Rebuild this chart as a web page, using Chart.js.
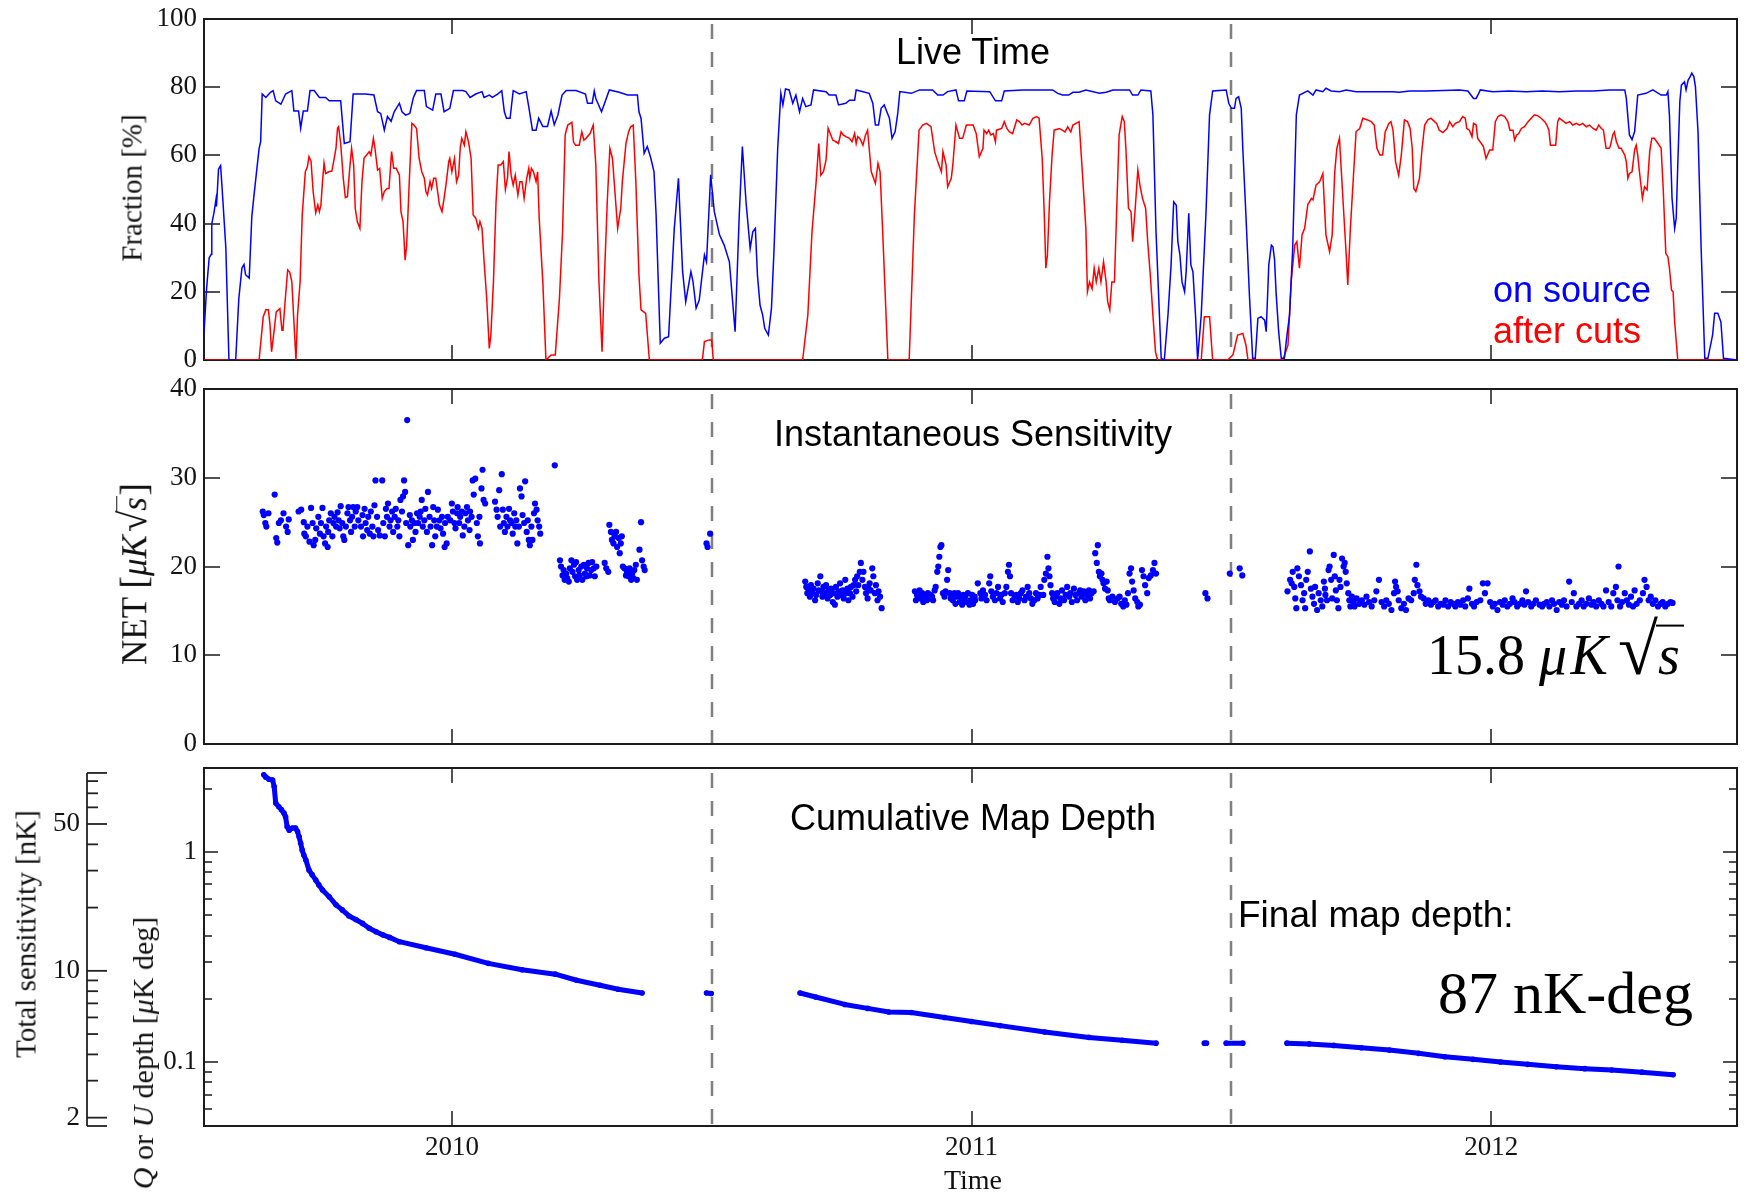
<!DOCTYPE html>
<html>
<head>
<meta charset="utf-8">
<title>Live time, instantaneous sensitivity and cumulative map depth</title>
<script src="https://cdn.jsdelivr.net/npm/chart.js@4/dist/chart.umd.min.js"></script>
<style>
  html, body { margin: 0; padding: 0; background: #fff; }
  #wrap { position: relative; width: 1744px; height: 1192px; overflow: hidden; background: #fff; }
  #wrap canvas { position: absolute; left: 0; }
  .t { position: absolute; white-space: nowrap; line-height: 1; }
  .serif { font-family: 'Liberation Serif', 'Times New Roman', serif; color: #111; }
  .sans { font-family: 'Liberation Sans', Arial, sans-serif; color: #000; }
  .c { transform: translate(-50%, -50%); }
  .l { transform: translate(0, -50%); }
  .rot { transform: translate(-50%, -50%) rotate(-90deg); }
  .rad { font-size: 1.12em; margin-left: 0.08em; }
  .rc { display: inline-block; border-top: 0.055em solid currentColor; line-height: 0.95; padding: 0.02em 0.04em 0 0.02em; margin-left: -0.03em; }
  .br { font-size: 1.1em; }
  .big .mu { margin-right: 0.06em; }
  .big .rad { font-size: 1.3em; margin-left: 0.14em; }
  .big .rc { border-top-width: 0.05em; padding: 0.04em 0.08em 0 0.04em; margin-left: -0.04em; }
</style>
</head>
<body>
<div id="wrap">
  <canvas id="live" width="1744" height="372" style="top:0px"></canvas>
  <canvas id="net" width="1744" height="384" style="top:372px"></canvas>
  <canvas id="depth" width="1744" height="436" style="top:756px"></canvas>

  <div class="t sans c" style="left:973px;top:52px;font-size:36px">Live Time</div>
  <div class="t sans c" style="left:973px;top:434px;font-size:36px">Instantaneous Sensitivity</div>
  <div class="t sans c" style="left:973px;top:818px;font-size:36px">Cumulative Map Depth</div>
  <div class="t sans l" style="left:1493px;top:290px;font-size:36px;color:#0000ff">on source</div>
  <div class="t sans l" style="left:1493px;top:331px;font-size:36px;color:#ff0000">after cuts</div>
  <div class="t sans l" style="left:1238px;top:914px;font-size:37px">Final map depth:</div>
  <div class="t serif l" style="left:1438px;top:993px;font-size:60px;color:#000">87 nK-deg</div>
  <div class="t serif l big" style="left:1427px;top:650px;font-size:56px;color:#000">15.8<span style="display:inline-block;width:14px"></span><i class="mu">μ</i><i>K</i><span class="rad">√</span><span class="rc"><i>s</i></span></div>

  <div class="t serif rot" style="left:132px;top:188px;font-size:29px">Fraction [%]</div>
  <div class="t serif rot" style="left:133px;top:574px;font-size:35px">NET <span class="br">[</span><i>μK</i><span class="rad">√</span><span class="rc"><i>s</i></span><span class="br">]</span></div>
  <div class="t serif rot" style="left:26px;top:934px;font-size:29px">Total sensitivity [nK]</div>
  <div class="t serif rot" style="left:143px;top:1053px;font-size:30px"><i>Q</i> or <i>U</i> depth [<i>μ</i>K deg]</div>
  <div class="t serif c" style="left:973px;top:1180px;font-size:28px">Time</div>
</div>

<script>
// ---- axis settings -------------------------------------------------------
const timeRange = [2009.523, 2012.473];
const yearTicks = [2010, 2011, 2012];
const seasonBreaks = [2010.5, 2011.5];
const fracTicks = [0, 20, 40, 60, 80, 100];
const netTicks = [0, 10, 20, 30, 40];
const depthRange = [0.0496, 2.51];          // Q or U depth, uK deg
const depthLabelTicks = [0.1, 1];
const depthMinorTicks = [0.06, 0.07, 0.08, 0.09, 0.2, 0.3, 0.4, 0.5, 0.6, 0.7, 0.8, 0.9, 2];
const nKPerDepth = 36.8;                     // total sensitivity [nK] per uK deg of map depth
const totalSensLabelTicks = [2, 10, 50];
const totalSensMinorTicks = [3, 4, 5, 6, 7, 8, 9, 20, 30, 40, 60, 70, 80];
const totalSensTop = 87.5;

// ---- live time fraction [%] ---------------------------------------------
const onSourcePts = [
[2009.523,8],[2009.528,21],[2009.533,30],[2009.537,31],[2009.538,40],[2009.542,43],[2009.546,47],[2009.547,45],[2009.551,56],[2009.555,57],[2009.558,50],[2009.565,33],[2009.571,0],[2009.584,0],[2009.590,18],[2009.596,27],[2009.600,28],[2009.603,25],[2009.610,24],[2009.615,42],[2009.619,48],[2009.624,55],[2009.629,62],[2009.632,64],[2009.635,78],[2009.642,77],[2009.651,78.5],[2009.656,79],[2009.661,76],[2009.671,75],[2009.680,78],[2009.692,79],[2009.696,73],[2009.705,73],[2009.709,68],[2009.714,73],[2009.722,73],[2009.727,79],[2009.735,79],[2009.745,77],[2009.757,77],[2009.764,76],[2009.777,76],[2009.786,76],[2009.793,63.5],[2009.804,64],[2009.810,78],[2009.825,78],[2009.834,78],[2009.850,77.7],[2009.857,72.8],[2009.863,72.3],[2009.870,67.4],[2009.876,71.4],[2009.883,70],[2009.889,72.8],[2009.899,75.3],[2009.904,72.8],[2009.911,71.8],[2009.919,72.3],[2009.926,77],[2009.932,79],[2009.947,79],[2009.951,74.3],[2009.963,73.3],[2009.969,78],[2009.979,78],[2009.985,72.8],[2009.996,73.8],[2010.003,79],[2010.021,79],[2010.027,78.7],[2010.035,77],[2010.046,78],[2010.058,78.7],[2010.062,77],[2010.072,77.7],[2010.078,77],[2010.088,78],[2010.096,79],[2010.101,72.8],[2010.105,70.9],[2010.112,70.9],[2010.118,79],[2010.130,78],[2010.143,78.7],[2010.149,73.3],[2010.155,67.4],[2010.162,67.4],[2010.167,70.9],[2010.175,68.5],[2010.184,68.5],[2010.191,73],[2010.197,69],[2010.204,71.8],[2010.212,77.7],[2010.220,79],[2010.239,79],[2010.257,78],[2010.261,75.3],[2010.270,75.3],[2010.274,78.9],
[2010.277,76.7],[2010.288,72.8],[2010.303,79.2],[2010.322,78.5],[2010.338,77.7],[2010.357,77.7],[2010.360,72.8],[2010.364,70.9],[2010.370,60.6],[2010.376,62.6],[2010.383,59.1],[2010.389,55.2],[2010.393,42.5],[2010.401,4.9],[2010.409,6.4],[2010.417,6.8],[2010.428,38.6],[2010.436,53.3],[2010.444,25.9],[2010.450,17.1],[2010.460,25.9],[2010.464,23],[2010.470,15.2],[2010.476,17.6],[2010.486,30.8],[2010.490,28.8],[2010.498,54.3],[2010.505,43.5],[2010.515,36.7],[2010.524,33.7],[2010.534,28.8],[2010.545,8.3],[2010.553,42.5],[2010.559,62.6],[2010.566,46.4],[2010.574,32.7],[2010.579,37.6],[2010.584,38.6],[2010.588,24.9],[2010.593,16.1],[2010.598,13.2],[2010.602,9.3],[2010.609,7.3],[2010.615,15.2],[2010.620,32.7],[2010.627,62.1],[2010.633,78.2],[2010.637,74.8],[2010.642,79.5],[2010.649,79.2],[2010.656,75.3],[2010.662,77.7],[2010.669,72.8],[2010.675,76.7],[2010.681,74.3],[2010.691,74.8],[2010.696,79.2],[2010.720,78.7],[2010.726,77.7],[2010.739,77.7],[2010.744,74.8],[2010.758,75.3],[2010.765,76.2],[2010.775,76.2],[2010.778,79.2],[2010.803,78.2],[2010.810,75.3],[2010.815,68.9],[2010.821,68.9],[2010.826,73.8],[2010.832,74.8],[2010.837,72.8],[2010.842,70.9],[2010.847,65],[2010.853,67],[2010.858,72.3],[2010.862,78.7],[2010.884,78.2],[2010.900,79.2],[2010.925,79.2],[2010.935,77.7],[2010.945,77.7],[2010.954,78.7],[2010.970,79.2],[2010.975,76],[2010.986,76],[2010.991,78.9],[2011.035,78.7],
[2011.046,76],[2011.058,76],[2011.063,78.9],[2011.098,79.2],[2011.156,79.2],[2011.166,78.2],[2011.175,77.7],[2011.187,77.7],[2011.195,78.5],[2011.207,78.5],[2011.220,79.2],[2011.246,78.2],[2011.259,78.5],[2011.272,79.2],[2011.304,79.2],[2011.310,77.7],[2011.320,77.7],[2011.326,79.2],[2011.345,78.9],[2011.349,71.9],[2011.355,37.6],[2011.365,0.5],[2011.371,0],[2011.378,13.2],[2011.384,27.9],[2011.389,46.4],[2011.394,45.4],[2011.397,34.7],[2011.401,30.8],[2011.405,22.9],[2011.410,20],[2011.413,25.9],[2011.418,43],[2011.422,27.9],[2011.426,25.9],[2011.431,13.2],[2011.435,0],[2011.442,13.2],[2011.451,42.5],[2011.458,71.9],[2011.464,78.9],[2011.490,79.2],[2011.495,75.3],[2011.500,73.8],[2011.506,73.8],[2011.509,76.7],[2011.514,77.2],[2011.519,73.8],[2011.522,62.1],[2011.528,42.5],[2011.535,18.1],[2011.541,0.5],[2011.546,0.5],[2011.551,12.2],[2011.557,12.7],[2011.564,11.7],[2011.567,8.3],[2011.572,27.9],[2011.577,33.7],[2011.580,33.2],[2011.583,29.6],[2011.586,19.9],[2011.591,8.3],[2011.596,0.5],[2011.602,0.5],[2011.607,7.3],[2011.612,13.2],[2011.618,32.7],[2011.625,71.9],[2011.631,77.7],[2011.647,78.9],[2011.657,77.7],[2011.663,79.2],[2011.676,78.7],[2011.682,79.7],[2011.692,78.9],[2011.708,78.7],[2011.721,79.2],[2011.740,78.7],[2011.772,78.7],
[2011.810,78.7],[2011.823,78.5],[2011.843,78.9],[2011.875,78.9],[2011.939,79.2],[2011.955,78.9],[2011.961,77.7],[2011.966,76.7],[2011.971,76.7],[2011.976,78.2],[2011.979,79.2],[2012.003,78.7],[2012.035,78.9],[2012.067,78.7],[2012.099,78.9],[2012.131,78.7],[2012.164,78.9],[2012.196,78.9],[2012.228,79.2],[2012.257,79.2],[2012.260,76.7],[2012.266,66],[2012.271,64.6],[2012.276,67],[2012.282,77.7],[2012.298,78.2],[2012.311,79.2],[2012.327,77.7],[2012.337,77.7],[2012.340,78.7],[2012.343,71.8],[2012.348,47.4],[2012.353,38.6],[2012.356,41.6],[2012.359,57.2],[2012.363,75.8],[2012.366,80.6],[2012.372,81.6],[2012.375,79.2],[2012.379,82.1],[2012.383,83.1],[2012.386,84.1],[2012.390,83.1],[2012.393,80.2],[2012.398,66.9],[2012.404,32.7],[2012.411,0.5],[2012.417,0.5],[2012.426,7.3],[2012.430,13.7],[2012.436,13.7],[2012.442,11.2],[2012.447,0.5],[2012.473,0]
];

const afterCutsPts = [
[2009.523,0],[2009.629,0],[2009.637,12.7],[2009.642,14.7],[2009.647,14.7],[2009.650,10.3],[2009.653,2.4],[2009.658,8.7],[2009.662,14.1],[2009.669,15.1],[2009.673,8.7],[2009.675,8.7],[2009.679,17.1],[2009.684,26.4],[2009.688,25.7],[2009.692,23],[2009.696,11.2],[2009.700,0],[2009.703,13.2],[2009.708,23],[2009.712,42.5],[2009.718,55.2],[2009.722,56.7],[2009.725,59.6],[2009.729,58.2],[2009.733,49.4],[2009.738,43.2],[2009.742,45.5],[2009.745,43.5],[2009.748,45.5],[2009.751,52.3],[2009.754,57.7],[2009.757,54.7],[2009.763,55.2],[2009.769,55.4],[2009.773,58.6],[2009.777,62.1],[2009.780,68],[2009.782,68.4],[2009.786,63.5],[2009.791,53.3],[2009.795,47.6],[2009.799,47.9],[2009.804,57.2],[2009.807,62.1],[2009.811,57.2],[2009.814,44.5],[2009.818,40.6],[2009.823,38.6],[2009.827,52.3],[2009.831,59.2],[2009.836,60.1],[2009.841,61.1],[2009.844,60.1],[2009.849,65],[2009.852,62.1],[2009.857,55.7],[2009.861,56.2],[2009.866,47.4],[2009.870,49.4],[2009.875,50.3],[2009.879,50.3],[2009.884,61.1],[2009.888,56.2],[2009.893,56.2],[2009.899,54.2],[2009.902,43.5],[2009.906,40.6],[2009.910,29.3],[2009.913,33.7],[2009.918,52.3],[2009.923,69.4],[2009.927,68.9],[2009.932,67.9],[2009.937,59.1],[2009.942,55.2],[2009.947,53.3],[2009.950,49.4],[2009.953,48.4],[2009.958,52.3],[2009.961,50.3],[2009.965,53.3],[2009.969,53.3],[2009.976,45.5],[2009.981,43.5],[2009.985,47.4],[2009.989,51.8],[2009.994,58.2],[2009.996,59.1],[2010.000,55.2],[2010.005,59.1],[2010.009,52.3],[2010.013,54.2],[2010.016,62.1],[2010.019,65],[2010.024,63],[2010.027,66.9],[2010.032,64],[2010.037,59.1],[2010.041,42.5],[2010.046,41.6],[2010.051,38.6],[2010.054,40.6],[2010.058,38.6],[2010.062,28.8],[2010.067,18.1],[2010.072,3.4],[2010.075,7.3],[2010.080,22.9],[2010.085,46.4],[2010.089,57.2],[2010.094,57.2],[2010.099,58.2],[2010.103,50],[2010.107,53.3],[2010.110,61.1],[2010.114,54.2],[2010.118,51.3],[2010.122,54.2],[2010.127,48.4],[2010.131,52.3],[2010.135,52.3],[2010.139,47.4],[2010.144,53.3],[2010.148,56.2],[2010.150,53.3],[2010.153,56.2],[2010.157,55.2],[2010.162,52.3],[2010.165,55.2],[2010.168,41.6],[2010.175,22.9],[2010.181,0],[2010.191,1.5],[2010.199,1.5],[2010.207,18.1],[2010.213,37.6],[2010.218,66],[2010.223,68.9],[2010.231,69.7],[2010.234,63.9],[2010.238,63],[2010.245,63],[2010.250,66.9],[2010.254,64.5],[2010.258,65],[2010.266,66.4],[2010.272,68.9],[2010.277,57.2],[2010.283,22.9],[2010.289,2.4],[2010.293,22],[2010.299,46.4],[2010.304,62.1],[2010.309,59.1],[2010.319,38.6],[2010.325,44.5],[2010.328,52.3],[2010.335,63.5],[2010.340,66.9],[2010.344,68.4],[2010.349,68.9],[2010.354,52.3],[2010.360,24.9],[2010.364,14.7],[2010.373,13.7],[2010.380,0],[2010.482,0],[2010.486,5.4],[2010.495,5.9],[2010.500,5.9],[2010.503,0],
[2010.675,0],[2010.685,13.2],[2010.693,37.6],[2010.701,52.3],[2010.706,63.5],[2010.710,54.2],[2010.715,55.2],[2010.720,58.6],[2010.724,68],[2010.733,64.5],[2010.739,64],[2010.744,63.5],[2010.749,66.9],[2010.753,66],[2010.758,65.5],[2010.765,65],[2010.770,64],[2010.775,66.4],[2010.778,63.5],[2010.781,65.5],[2010.785,65],[2010.791,63],[2010.796,66],[2010.800,67.4],[2010.807,55.2],[2010.815,51.8],[2010.820,57.7],[2010.824,55.2],[2010.829,37.6],[2010.839,0],[2010.880,0],[2010.890,42.5],[2010.899,67.4],[2010.906,68.9],[2010.913,69.4],[2010.922,68.4],[2010.929,61.1],[2010.935,58.1],[2010.942,55.2],[2010.945,61.1],[2010.951,57.2],[2010.954,50.8],[2010.961,53.3],[2010.964,57.2],[2010.970,68.9],[2010.977,65],[2010.983,65],[2010.990,68.9],[2011.003,68.9],[2011.009,66.4],[2011.015,59.6],[2011.022,62.1],[2011.024,67.4],[2011.029,66.4],[2011.033,67.4],[2011.037,66],[2011.042,66.4],[2011.046,64],[2011.048,67.4],[2011.058,67.9],[2011.063,69.9],[2011.068,67.9],[2011.073,66.9],[2011.079,66.4],[2011.087,70.4],[2011.092,69.9],[2011.097,68.9],[2011.102,69.4],[2011.111,68.9],[2011.118,70.9],[2011.125,71.4],[2011.130,70.9],[2011.136,59.1],[2011.140,42.5],[2011.143,26.9],[2011.146,30.8],[2011.150,46.4],[2011.155,60.1],[2011.159,67.4],[2011.169,67.9],[2011.180,66.9],[2011.185,68.4],[2011.191,66.9],[2011.195,68.9],[2011.207,69.9],[2011.214,53.3],[2011.220,38.6],[2011.223,20],[2011.227,22.9],[2011.232,20.9],[2011.236,26.9],[2011.240,22.9],[2011.245,26.9],[2011.249,22.9],[2011.254,28.8],[2011.259,22.9],[2011.262,17.1],[2011.266,14.7],[2011.270,22.9],[2011.275,22.9],[2011.279,42.5],[2011.284,66],[2011.290,71.4],[2011.294,69.9],[2011.297,62.1],[2011.302,44.5],[2011.307,43.5],[2011.310,34.7],[2011.315,44.5],[2011.320,55.7],[2011.324,51.3],[2011.329,47.4],[2011.335,44.5],[2011.339,34.7],[2011.344,24.9],[2011.349,13.2],[2011.354,2.4],[2011.358,0],[2011.442,0],[2011.448,12.7],[2011.458,12.7],[2011.464,0],[2011.493,0],[2011.503,1.5],[2011.512,7.3],[2011.522,7.8],[2011.528,4.4],[2011.532,0],
[2011.599,0],[2011.609,4.4],[2011.615,22.9],[2011.622,33.7],[2011.626,34.7],[2011.631,26.9],[2011.636,36.7],[2011.641,38.6],[2011.647,45.5],[2011.654,47.4],[2011.657,47],[2011.663,51.3],[2011.670,52.3],[2011.676,54.7],[2011.682,36.7],[2011.689,31.8],[2011.694,36.7],[2011.699,55.2],[2011.703,62.1],[2011.708,65],[2011.715,46.4],[2011.721,30.8],[2011.724,22],[2011.729,38.6],[2011.735,54.2],[2011.740,67],[2011.747,67.9],[2011.753,70.9],[2011.762,70.4],[2011.769,69.9],[2011.775,68.9],[2011.780,62.1],[2011.786,60.1],[2011.791,60.1],[2011.796,66.9],[2011.803,69.4],[2011.807,69.9],[2011.811,67.4],[2011.816,58.1],[2011.822,54.2],[2011.827,60.1],[2011.833,70.4],[2011.839,69.9],[2011.844,67.9],[2011.848,62.1],[2011.851,50.3],[2011.855,49.4],[2011.862,53.3],[2011.867,62.1],[2011.872,68.9],[2011.878,70.4],[2011.884,70.9],[2011.891,69.9],[2011.895,69.4],[2011.900,67.4],[2011.907,66.7],[2011.915,67.9],[2011.920,69.9],[2011.926,68.4],[2011.931,69.4],[2011.939,69.9],[2011.945,71.4],[2011.950,70.9],[2011.953,67.9],[2011.958,67.4],[2011.963,65.5],[2011.966,69.4],[2011.971,68.9],[2011.974,65],[2011.981,63.5],[2011.985,62.6],[2011.990,59.1],[2011.997,61.6],[2012.003,61.6],[2012.008,69.9],[2012.013,71.4],[2012.019,71.9],[2012.026,71.4],[2012.032,69.9],[2012.036,67.4],[2012.042,67.4],[2012.045,64.5],[2012.049,66],[2012.053,66.4],[2012.058,67.9],[2012.064,68.4],[2012.071,69.9],[2012.077,70.9],[2012.083,71.9],[2012.090,71.6],[2012.096,70.9],[2012.103,69.9],[2012.107,68.9],[2012.111,67.4],[2012.114,63],[2012.119,63],[2012.124,63],[2012.128,69.9],[2012.131,70.9],[2012.138,70.1],[2012.144,69.4],[2012.151,69.9],[2012.157,68.9],[2012.164,69.4],[2012.170,68.9],[2012.176,69.4],[2012.183,68.4],[2012.189,68.9],[2012.196,67.9],[2012.202,67.4],[2012.207,68.9],[2012.212,67.9],[2012.216,67.4],[2012.221,62.1],[2012.227,62.1],[2012.229,62.6],[2012.234,66],[2012.237,66.9],[2012.241,64],[2012.246,62.1],[2012.250,62.1],[2012.257,60.1],[2012.260,58.1],[2012.263,53.3],[2012.266,54.7],[2012.271,55.2],[2012.276,61.6],[2012.279,63],[2012.282,60.1],[2012.286,54.2],[2012.291,47.4],[2012.295,50.8],[2012.300,49.9],[2012.305,61.1],[2012.309,65],[2012.314,65],[2012.321,63.5],[2012.327,62.1],[2012.331,50.3],[2012.336,31.3],[2012.340,30.3],[2012.343,26.9],[2012.347,20.5],[2012.350,20],[2012.353,11.2],[2012.359,0],[2012.473,0]
];

// ---- instantaneous NET [uK sqrt(s)] --------------------------------------
const netPts = [
[2009.636,26.2],[2009.638,25.8],[2009.641,24.9],[2009.643,24.5],[2009.647,26.0],[2009.659,28.1],[2009.662,23.2],[2009.664,22.7],[2009.667,24.9],[2009.671,25.2],[2009.676,26.0],[2009.681,24.5],[2009.684,23.9],[2009.686,25.3],[2009.705,26.2],[2009.710,26.4],[2009.715,25.0],[2009.716,23.7],[2009.719,23.4],[2009.722,24.5],[2009.726,22.8],[2009.729,26.6],[2009.732,24.9],[2009.734,22.4],[2009.737,23.0],[2009.739,24.3],[2009.743,25.6],[2009.746,23.7],[2009.748,24.9],[2009.751,26.6],[2009.753,23.4],[2009.756,22.6],[2009.758,24.5],[2009.761,22.2],[2009.762,23.9],[2009.764,25.2],[2009.767,26.0],[2009.770,23.4],[2009.772,24.9],[2009.774,25.6],[2009.777,24.5],[2009.780,26.1],[2009.782,25.2],[2009.784,24.3],[2009.786,26.8],[2009.789,24.9],[2009.791,23.4],[2009.793,23.0],[2009.796,24.5],[2009.799,26.0],[2009.801,26.7],[2009.804,25.2],[2009.806,23.9],[2009.808,25.6],[2009.810,26.7],[2009.813,24.5],[2009.815,26.2],[2009.818,26.7],[2009.820,25.2],[2009.825,24.5],[2009.828,25.8],[2009.829,23.4],[2009.832,26.5],[2009.834,24.9],[2009.837,24.1],[2009.839,25.6],[2009.842,23.7],[2009.844,26.2],[2009.847,24.5],[2009.849,23.4],[2009.851,26.9],[2009.853,29.7],[2009.856,25.6],[2009.858,24.1],[2009.861,23.5],[2009.866,29.7],[2009.868,24.9],[2009.871,23.4],[2009.873,26.5],[2009.875,25.6],[2009.877,27.1],[2009.880,24.5],[2009.882,25.2],[2009.885,26.2],[2009.887,23.9],[2009.890,25.6],[2009.892,26.5],[2009.895,24.5],[2009.897,25.2],[2009.899,23.4],[2009.901,27.5],[2009.904,26.2],[2009.906,27.9],[2009.908,29.7],[2009.910,28.4],[2009.912,24.9],[2009.914,36.5],[2009.916,22.4],[2009.919,25.8],[2009.920,24.5],[2009.923,25.2],[2009.925,23.0],[2009.928,24.9],[2009.930,23.9],[2009.933,26.0],[2009.935,24.9],[2009.938,25.6],[2009.940,26.2],[2009.942,27.5],[2009.944,24.5],[2009.947,25.2],[2009.949,26.5],[2009.952,23.9],[2009.954,28.4],[2009.957,25.6],[2009.959,24.5],[2009.962,22.4],[2009.964,26.7],[2009.966,25.2],[2009.968,23.4],[2009.971,24.5],[2009.973,26.4],[2009.976,25.2],[2009.978,24.3],[2009.981,25.6],[2009.983,23.7],[2009.986,22.2],[2009.987,24.9],[2009.990,22.6],[2009.992,25.6],[2009.997,25.2],[2010.000,27.1],[2010.002,26.2],[2010.005,24.9],[2010.007,24.3],[2010.010,26.0],[2010.011,26.7],[2010.014,24.9],[2010.016,25.6],[2010.019,26.2],[2010.021,23.5],[2010.024,24.5],[2010.026,26.0],[2010.029,26.7],[2010.031,25.2],[2010.034,24.1],[2010.035,26.2],[2010.038,25.6],[2010.040,29.7],[2010.042,28.1],[2010.045,29.9],[2010.048,24.9],[2010.050,23.4],[2010.053,25.6],[2010.054,22.6],[2010.057,28.8],[2010.059,30.9],[2010.061,27.5],[2010.064,27.1],[2010.083,27.3],[2010.086,26.4],[2010.088,25.6],[2010.091,28.6],[2010.093,24.5],[2010.096,30.4],[2010.098,26.4],[2010.100,24.9],[2010.102,23.9],[2010.105,25.6],[2010.107,24.5],[2010.110,26.5],[2010.112,25.2],[2010.115,24.9],[2010.117,23.7],[2010.120,26.0],[2010.122,24.5],[2010.124,25.2],[2010.126,22.6],[2010.129,24.5],[2010.131,28.8],[2010.134,27.9],[2010.136,25.8],[2010.139,24.9],[2010.141,29.6],[2010.144,23.9],[2010.146,25.2],[2010.148,23.0],[2010.150,22.4],[2010.153,24.5],[2010.155,23.0],[2010.158,26.0],[2010.160,27.1],[2010.163,26.4],[2010.165,25.2],[2010.168,24.5],[2010.170,23.7],[2010.198,31.4],
[2010.208,20.7],[2010.210,20.0],[2010.213,19.0],[2010.215,19.6],[2010.217,18.5],[2010.220,19.2],[2010.222,18.7],[2010.225,18.3],[2010.227,19.8],[2010.230,20.7],[2010.232,19.4],[2010.235,20.2],[2010.237,18.9],[2010.239,20.5],[2010.241,18.5],[2010.244,19.6],[2010.246,19.0],[2010.249,20.0],[2010.251,18.5],[2010.254,20.2],[2010.256,19.2],[2010.259,18.9],[2010.260,19.8],[2010.263,20.4],[2010.265,19.0],[2010.268,19.6],[2010.270,20.5],[2010.273,19.8],[2010.275,18.9],[2010.278,20.0],[2010.294,20.4],[2010.297,19.8],[2010.301,19.4],[2010.303,24.7],[2010.306,23.9],[2010.308,23.0],[2010.311,22.6],[2010.313,23.4],[2010.316,23.9],[2010.318,22.2],[2010.321,23.2],[2010.323,21.5],[2010.325,22.6],[2010.327,23.4],[2010.329,20.0],[2010.332,19.8],[2010.335,19.0],[2010.337,19.4],[2010.340,18.9],[2010.342,19.8],[2010.345,18.5],[2010.347,19.2],[2010.349,18.7],[2010.351,19.6],[2010.354,20.2],[2010.356,18.5],[2010.361,21.9],[2010.364,25.0],[2010.366,20.7],[2010.369,20.0],[2010.371,19.6],
[2010.490,22.6],[2010.492,22.2],[2010.497,23.7],
[2010.680,18.3],[2010.682,17.7],[2010.684,17.0],[2010.687,17.3],[2010.689,16.6],[2010.691,17.9],[2010.694,17.0],[2010.696,17.5],[2010.699,16.2],[2010.701,16.8],[2010.704,18.1],[2010.706,17.3],[2010.709,18.9],[2010.711,17.2],[2010.713,16.6],[2010.715,17.7],[2010.718,17.0],[2010.720,17.9],[2010.723,16.4],[2010.725,17.3],[2010.728,16.8],[2010.730,17.5],[2010.733,16.0],[2010.734,17.0],[2010.737,15.7],[2010.739,17.7],[2010.742,16.6],[2010.744,17.2],[2010.747,18.1],[2010.749,16.8],[2010.752,17.3],[2010.754,16.4],[2010.757,18.5],[2010.758,17.0],[2010.761,17.5],[2010.763,16.2],[2010.766,17.0],[2010.768,17.7],[2010.771,16.6],[2010.773,17.9],[2010.776,18.5],[2010.778,17.2],[2010.780,18.9],[2010.782,17.9],[2010.785,19.4],[2010.787,20.4],[2010.790,18.5],[2010.792,19.4],[2010.795,17.7],[2010.797,17.0],[2010.800,16.4],[2010.802,17.5],[2010.804,18.1],[2010.806,17.3],[2010.809,19.8],[2010.811,18.9],[2010.814,17.0],[2010.816,17.9],[2010.819,16.2],[2010.821,17.2],[2010.824,16.6],[2010.827,15.3],
[2010.891,17.2],[2010.893,16.2],[2010.895,16.8],[2010.897,16.6],[2010.900,17.3],[2010.902,16.4],[2010.905,17.0],[2010.907,16.0],[2010.910,16.8],[2010.912,16.6],[2010.914,16.2],[2010.916,17.0],[2010.919,16.4],[2010.921,16.8],[2010.924,16.6],[2010.926,16.2],[2010.929,17.3],[2010.931,17.7],[2010.934,19.4],[2010.936,20.0],[2010.938,21.1],[2010.940,22.2],[2010.942,22.4],[2010.945,17.0],[2010.948,16.6],[2010.950,17.2],[2010.953,18.5],[2010.955,19.6],[2010.958,17.0],[2010.960,16.4],[2010.962,16.8],[2010.964,16.2],[2010.967,17.0],[2010.969,15.8],[2010.972,16.6],[2010.974,17.0],[2010.977,16.0],[2010.979,16.6],[2010.982,15.7],[2010.984,16.8],[2010.986,16.2],[2010.988,16.6],[2010.991,16.0],[2010.993,17.0],[2010.996,15.7],[2010.998,16.2],[2011.001,16.8],[2011.003,15.8],[2011.006,16.6],[2011.007,16.2],[2011.012,18.1],
[2011.017,17.0],[2011.019,16.4],[2011.022,17.3],[2011.026,16.8],[2011.029,16.2],[2011.034,18.1],[2011.036,18.9],[2011.038,17.2],[2011.041,16.6],[2011.045,16.2],[2011.048,17.0],[2011.051,17.7],[2011.055,16.4],[2011.057,16.8],[2011.060,16.0],[2011.064,17.0],[2011.067,17.7],[2011.070,19.4],[2011.072,20.2],[2011.074,18.9],[2011.076,17.0],[2011.079,16.2],[2011.083,16.6],[2011.086,16.8],[2011.089,16.0],[2011.092,16.4],[2011.095,17.0],[2011.098,17.3],[2011.102,16.2],[2011.105,16.6],[2011.108,17.7],[2011.111,17.0],[2011.114,16.4],[2011.117,15.8],[2011.121,16.2],[2011.124,17.0],[2011.127,16.4],[2011.131,16.8],[2011.133,17.7],[2011.138,16.8],[2011.140,18.5],[2011.143,19.2],[2011.146,21.1],[2011.148,19.8],[2011.150,18.9],[2011.152,17.9],[2011.155,17.0],[2011.157,16.4],[2011.160,16.0],[2011.162,16.6],[2011.165,17.0],[2011.169,15.8],[2011.171,16.4],[2011.174,17.3],[2011.178,16.2],[2011.181,16.8],[2011.184,17.7],[2011.188,16.6],[2011.190,17.0],[2011.193,16.0],[2011.197,17.5],[2011.200,16.8],[2011.203,16.2],[2011.207,17.0],[2011.209,17.3],[2011.212,16.6],[2011.216,17.2],[2011.219,16.2],[2011.222,16.8],[2011.226,17.3],[2011.228,16.4],[2011.231,17.0],[2011.235,17.2],[2011.238,21.5],[2011.241,20.4],[2011.243,22.4],[2011.245,19.4],[2011.247,18.9],[2011.250,19.2],[2011.252,18.5],[2011.254,18.1],[2011.257,17.5],[2011.260,18.3],[2011.262,17.3],[2011.264,16.4],[2011.266,16.2],[2011.271,16.6],[2011.276,16.0],[2011.281,16.4],[2011.285,16.6],[2011.288,15.8],[2011.292,15.5],[2011.295,16.2],[2011.298,15.7],[2011.301,17.0],[2011.304,19.2],[2011.307,19.8],[2011.309,18.3],[2011.312,17.3],[2011.315,16.4],[2011.319,16.0],[2011.321,15.5],[2011.324,15.7],[2011.328,19.6],[2011.331,18.9],[2011.334,17.9],[2011.338,17.0],[2011.341,18.7],[2011.345,19.0],[2011.349,19.6],[2011.352,20.4],[2011.355,19.2],
[2011.450,17.0],[2011.454,16.4],[2011.497,19.2],[2011.516,19.8],[2011.521,19.0],
[2011.608,17.2],[2011.613,18.5],[2011.616,18.1],[2011.618,19.4],[2011.621,17.7],[2011.623,16.4],[2011.625,15.3],[2011.627,19.8],[2011.630,18.9],[2011.634,17.9],[2011.637,16.2],[2011.640,17.0],[2011.642,15.3],[2011.644,18.5],[2011.647,19.4],[2011.651,21.7],[2011.653,17.5],[2011.656,16.6],[2011.659,15.8],[2011.661,17.7],[2011.665,15.1],[2011.668,17.0],[2011.672,16.2],[2011.675,15.5],[2011.678,18.3],[2011.680,17.5],[2011.681,16.8],[2011.684,16.2],[2011.687,19.6],[2011.689,20.0],[2011.692,18.5],[2011.694,16.4],[2011.697,21.3],[2011.699,18.9],[2011.701,17.3],[2011.703,16.2],[2011.706,15.3],[2011.708,18.5],[2011.710,17.7],[2011.713,20.9],[2011.716,20.0],[2011.718,20.4],[2011.720,19.4],[2011.722,18.1],[2011.725,17.0],[2011.727,16.2],[2011.729,15.5],[2011.732,16.6],[2011.735,16.0],[2011.737,15.5],[2011.741,16.4],[2011.746,15.8],[2011.751,16.2],[2011.756,15.7],[2011.760,16.6],[2011.765,16.0],[2011.770,15.5],[2011.775,16.2],[2011.779,17.2],[2011.784,18.5],[2011.789,16.0],[2011.794,15.5],[2011.798,16.2],[2011.803,15.8],[2011.808,15.1],[2011.813,17.0],[2011.815,18.3],[2011.817,17.7],[2011.820,17.2],[2011.822,16.2],[2011.827,15.3],[2011.832,15.8],[2011.836,15.1],[2011.841,16.4],[2011.846,16.2],[2011.851,17.0],[2011.853,18.5],[2011.856,20.2],[2011.858,17.9],[2011.862,17.2],[2011.865,16.6],[2011.870,16.4],[2011.874,15.8],[2011.879,16.2],[2011.884,15.7],[2011.889,16.0],[2011.893,16.2],[2011.898,15.5],[2011.903,15.8],[2011.908,15.7],[2011.912,16.2],[2011.917,15.5],[2011.922,16.0],[2011.927,15.8],[2011.931,15.5],[2011.936,16.0],[2011.941,15.7],[2011.946,16.2],[2011.950,15.5],[2011.955,16.4],[2011.958,17.5],[2011.963,15.8],[2011.967,15.5],[2011.972,16.0],[2011.979,16.2],[2011.984,18.1],[2011.988,17.0],[2011.993,18.1],[2011.998,16.0],[2012.003,15.5],[2012.007,15.8],[2012.012,15.1],[2012.017,16.0],[2012.022,15.7],[2012.026,16.2],[2012.031,15.5],[2012.036,15.8],[2012.041,16.4],[2012.045,16.0],[2012.050,15.5],[2012.055,15.8],[2012.060,16.2],[2012.064,15.7],[2012.067,17.2],[2012.071,16.0],[2012.077,15.5],[2012.081,15.8],[2012.086,16.2],[2012.093,15.7],[2012.098,15.5],[2012.102,15.8],[2012.107,16.0],[2012.112,15.5],[2012.117,16.2],[2012.121,15.8],[2012.126,15.1],[2012.131,16.0],[2012.136,15.7],[2012.140,16.2],[2012.145,15.5],[2012.150,18.3],[2012.155,16.0],[2012.159,17.0],[2012.164,15.5],[2012.169,15.8],[2012.174,16.2],[2012.178,15.5],[2012.183,15.8],[2012.188,16.4],[2012.193,15.7],[2012.197,16.0],[2012.202,15.5],[2012.207,16.2],[2012.212,15.8],[2012.216,15.5],[2012.221,17.3],[2012.226,16.0],[2012.231,15.5],[2012.235,17.0],[2012.240,17.7],[2012.243,16.2],[2012.245,20.0],[2012.248,15.5],[2012.252,16.0],[2012.257,17.0],[2012.261,16.2],[2012.265,15.7],[2012.269,16.6],[2012.273,15.5],[2012.276,17.3],[2012.280,15.8],[2012.286,16.2],[2012.292,17.0],[2012.295,18.5],[2012.299,17.7],[2012.303,16.2],[2012.307,16.6],[2012.311,15.8],[2012.316,16.2],[2012.321,15.5],[2012.326,15.8],[2012.330,16.0],[2012.335,15.5],[2012.340,15.8],[2012.345,16.0],[2012.349,15.9]
];

// ---- cumulative Q/U map depth [uK deg]; null marks a break between seasons
const depthPts = [
[2009.638,2.33],[2009.642,2.27],[2009.648,2.22],[2009.655,2.20],[2009.658,2.05],[2009.661,1.71],[2009.667,1.64],[2009.672,1.59],[2009.677,1.53],[2009.680,1.47],[2009.683,1.32],[2009.687,1.27],[2009.693,1.30],[2009.699,1.30],[2009.703,1.25],[2009.706,1.18],[2009.709,1.10],[2009.712,1.02],[2009.715,0.968],[2009.719,0.916],[2009.725,0.82],[2009.731,0.78],[2009.738,0.735],[2009.744,0.697],[2009.751,0.659],[2009.764,0.612],[2009.777,0.56],[2009.789,0.53],[2009.802,0.496],[2009.815,0.477],[2009.828,0.457],[2009.841,0.433],[2009.854,0.417],[2009.867,0.403],[2009.880,0.392],[2009.899,0.374],[2009.950,0.350],[2010.006,0.326],[2010.070,0.295],[2010.135,0.275],[2010.199,0.262],[2010.240,0.245],[2010.285,0.232],[2010.320,0.222],[2010.366,0.213],
[2010.40,null],[2010.490,0.213],[2010.499,0.212],[2010.58,null],
[2010.670,0.213],[2010.700,0.204],[2010.756,0.188],[2010.800,0.180],[2010.841,0.173],[2010.884,0.172],[2010.948,0.163],[2011.000,0.156],[2011.055,0.149],[2011.141,0.139],[2011.226,0.131],[2011.290,0.127],[2011.355,0.123],
[2011.40,null],[2011.448,0.123],[2011.452,0.123],[2011.47,null],[2011.490,0.123],[2011.522,0.123],[2011.56,null],
[2011.607,0.123],[2011.650,0.122],[2011.697,0.120],[2011.750,0.117],[2011.804,0.114],[2011.860,0.110],[2011.911,0.106],[2011.965,0.103],[2012.018,0.100],[2012.070,0.0975],[2012.125,0.095],[2012.180,0.093],[2012.232,0.0916],[2012.290,0.0895],[2012.350,0.087]
];

// ---- drawing helpers -----------------------------------------------------
const serifFont = "'Liberation Serif', 'Times New Roman', serif";
// fixed axis width so the three panels share the same plot edges
const fixedWidth = w => s => { s.width = w; s.paddingTop = 0; s.paddingBottom = 0; };
const tickValues = list => s => { s.ticks = list.map(v => ({ value: v })); };
const labelStyle = (pad) => ({ font: { family: serifFont, size: 27 }, color: '#141414', padding: pad, callback: v => String(v) });
const noGrid = { display: false, drawTicks: false };

// Panel frame, inward tick marks, season boundaries and the outer nK axis
const panelFrame = {
  id: 'panelFrame',
  beforeDatasetsDraw(chart, _args, o) {
    const { ctx, chartArea: a, scales } = chart;
    const xs = scales.x, ys = scales.y;
    const seg = (x1, y1, x2, y2) => { ctx.beginPath(); ctx.moveTo(x1, y1); ctx.lineTo(x2, y2); ctx.stroke(); };
    ctx.save();
    ctx.lineCap = 'butt';
    ctx.strokeStyle = '#808080';
    ctx.lineWidth = 2.5;
    ctx.setLineDash([15, 13]);
    for (const t of seasonBreaks) {
      const px = Math.round(xs.getPixelForValue(t));
      seg(px, a.top + 5, px, a.bottom);
    }
    ctx.setLineDash([]);
    ctx.strokeStyle = '#333';
    ctx.lineWidth = 1.7;
    for (const t of yearTicks) {
      const px = Math.round(xs.getPixelForValue(t));
      seg(px, a.top, px, a.top + 15);
      seg(px, a.bottom, px, a.bottom - 15);
    }
    for (const m of o.marks) {
      const py = Math.round(ys.getPixelForValue(m[0]));
      seg(a.left, py, a.left + m[1], py);
      seg(a.right, py, a.right - m[1], py);
    }
    ctx.strokeStyle = '#1c1c1c';
    ctx.lineWidth = 2;
    ctx.strokeRect(a.left, a.top, a.right - a.left, a.bottom - a.top);
    if (o.outer) {
      const s = scales[o.outer.id];
      const x0 = s.right - 3;
      const yTop = s.getPixelForValue(o.outer.top);
      const yBot = s.getPixelForValue(s.min);
      ctx.strokeStyle = '#222';
      ctx.lineWidth = 1.8;
      seg(x0, yTop, x0, yBot);
      seg(x0, yTop, x0 + 20, yTop);
      seg(x0, yBot, x0 + 20, yBot);
      for (const v of o.outer.major) { const py = s.getPixelForValue(v); seg(x0, py, x0 + 20, py); }
      for (const v of o.outer.minor) { const py = s.getPixelForValue(v); seg(x0, py, x0 + 11, py); }
    }
    ctx.restore();
  }
};

const xAxis = (display) => ({
  type: 'linear', min: timeRange[0], max: timeRange[1], display,
  grid: noGrid, border: { display: false },
  afterBuildTicks: tickValues(yearTicks),
  afterFit: s => { if (display) { s.height = 66; } s.paddingLeft = 0; s.paddingRight = 0; },
  ticks: Object.assign(labelStyle(6), { maxRotation: 0, autoSkip: false })
});

const common = {
  responsive: false, animation: false, devicePixelRatio: 1,
  plugins: { legend: { display: false }, tooltip: { enabled: false } }
};

// ---- Live Time panel -----------------------------------------------------
new Chart(document.getElementById('live'), {
  type: 'line',
  data: { datasets: [
    { label: 'on source', data: onSourcePts, borderColor: '#0000ff', borderWidth: 1.5, pointRadius: 0, tension: 0, fill: false },
    { label: 'after cuts', data: afterCutsPts, borderColor: '#ff0000', borderWidth: 1.5, pointRadius: 0, tension: 0, fill: false }
  ] },
  options: Object.assign({}, common, {
    layout: { padding: { left: 0, right: 7, top: 19, bottom: 12 } },
    plugins: Object.assign({}, common.plugins, { panelFrame: { marks: fracTicks.map(v => [v, 16]) } }),
    scales: {
      x: xAxis(false),
      y: { min: 0, max: 100, afterFit: fixedWidth(204), afterBuildTicks: tickValues(fracTicks),
           grid: noGrid, border: { display: false }, ticks: labelStyle(7) }
    }
  }),
  plugins: [panelFrame]
});

// ---- Instantaneous Sensitivity panel -------------------------------------
new Chart(document.getElementById('net'), {
  type: 'scatter',
  data: { datasets: [
    { label: 'NET', data: netPts, backgroundColor: '#0000ff', borderWidth: 0, pointRadius: 3.1 }
  ] },
  options: Object.assign({}, common, {
    layout: { padding: { left: 0, right: 7, top: 17, bottom: 12 } },
    plugins: Object.assign({}, common.plugins, { panelFrame: { marks: netTicks.map(v => [v, 16]) } }),
    scales: {
      x: xAxis(false),
      y: { min: 0, max: 40, afterFit: fixedWidth(204), afterBuildTicks: tickValues(netTicks),
           grid: noGrid, border: { display: false }, ticks: labelStyle(7) }
    }
  }),
  plugins: [panelFrame]
});

// ---- Cumulative Map Depth panel ------------------------------------------
new Chart(document.getElementById('depth'), {
  type: 'line',
  data: { datasets: [
    { label: 'map depth', data: depthPts, borderColor: '#0000ff', borderWidth: 5, borderCapStyle: 'round',
      borderJoinStyle: 'round', pointRadius: 2.8, pointBackgroundColor: '#0000ff', pointBorderWidth: 0,
      tension: 0, spanGaps: false, fill: false, yAxisID: 'y' }
  ] },
  options: Object.assign({}, common, {
    layout: { padding: { left: 0, right: 7, top: 12, bottom: 0 } },
    plugins: Object.assign({}, common.plugins, { panelFrame: {
      marks: depthLabelTicks.map(v => [v, 14]).concat(depthMinorTicks.map(v => [v, 8])),
      outer: { id: 'y2', top: totalSensTop, major: totalSensLabelTicks, minor: totalSensMinorTicks }
    } }),
    scales: {
      x: xAxis(true),
      y: { type: 'logarithmic', position: 'left', weight: 0, min: depthRange[0], max: depthRange[1],
           afterFit: fixedWidth(114), afterBuildTicks: tickValues(depthLabelTicks),
           grid: noGrid, border: { display: false }, ticks: labelStyle(7) },
      y2: { type: 'logarithmic', position: 'left', weight: 1,
            min: depthRange[0] * nKPerDepth, max: depthRange[1] * nKPerDepth,
            afterFit: fixedWidth(90), afterBuildTicks: tickValues(totalSensLabelTicks),
            grid: noGrid, border: { display: false }, ticks: labelStyle(10) }
    }
  }),
  plugins: [panelFrame]
});
</script>
</body>
</html>
